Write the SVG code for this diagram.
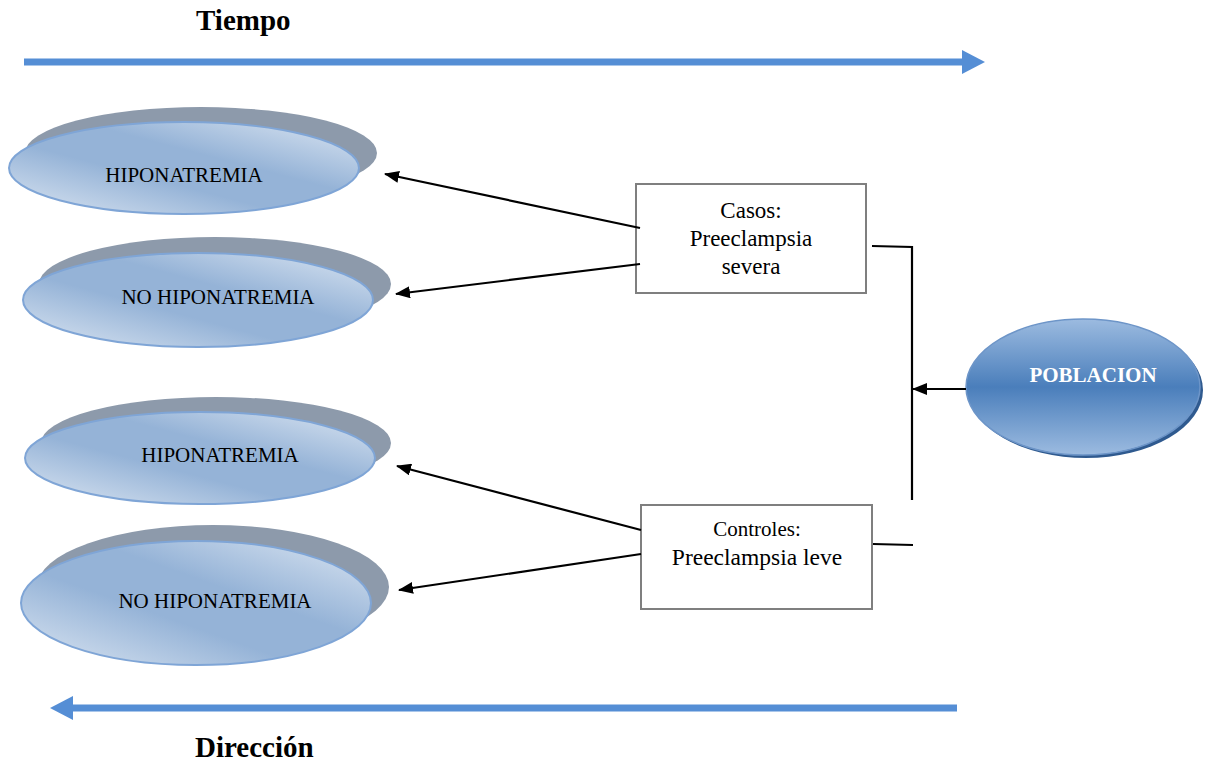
<svg xmlns="http://www.w3.org/2000/svg" width="1209" height="768" viewBox="0 0 1209 768">
<defs>
<style>
.title{font-family:"Liberation Serif","Times New Roman",serif;font-weight:bold;font-size:29px;fill:#000}
.elabel{font-family:"Liberation Serif","Times New Roman",serif;font-size:21px;fill:#000;text-anchor:middle}
.blabel{font-family:"Liberation Serif","Times New Roman",serif;fill:#000;text-anchor:middle}
.shadow{fill:#8d9aab}
.front{fill:url(#lightGrad);stroke:#7fa5d6;stroke-width:2}
.box{fill:#fff;stroke:#7f7f7f;stroke-width:2}
.conn{stroke:#000;stroke-width:2.2;fill:none}
.blue{stroke:#558ed5;stroke-width:7;fill:none}
</style>
<linearGradient id="lightGrad" x1="0" y1="1" x2="1" y2="0">
<stop offset="0" stop-color="#dce6f2"/>
<stop offset="0.4" stop-color="#95b3d7"/>
<stop offset="0.6" stop-color="#95b3d7"/>
<stop offset="1" stop-color="#dce6f2"/>
</linearGradient>
<linearGradient id="popGrad" x1="0" y1="0" x2="0" y2="1">
<stop offset="0" stop-color="#9cbbe0"/>
<stop offset="0.5" stop-color="#4a7ebb"/>
<stop offset="1" stop-color="#9cbbe0"/>
</linearGradient>
<marker id="ah" markerWidth="15" markerHeight="12" refX="14" refY="6" orient="auto" markerUnits="userSpaceOnUse" viewBox="0 0 15 12">
<path d="M0,0 L15,6 L0,12 z" fill="#000"/>
</marker>
</defs>
<rect width="1209" height="768" fill="#fff"/>

<g id="timeline-top">
<text class="title" x="196" y="30">Tiempo</text>
<line class="blue" x1="24" y1="62" x2="964" y2="62"/>
<polygon points="962,50 985,62 962,74" fill="#558ed5"/>
</g>

<g id="timeline-bottom">
<line class="blue" x1="957" y1="708" x2="71" y2="708"/>
<polygon points="73,696 50,708 73,720" fill="#558ed5"/>
<text class="title" x="195" y="757">Dirección</text>
</g>

<g id="n1">
<ellipse class="shadow" cx="201" cy="153" rx="176" ry="46"/>
<ellipse class="front" cx="184" cy="168" rx="175" ry="46"/>
<text class="elabel" x="184" y="182">HIPONATREMIA</text>
</g>

<g id="n2">
<ellipse class="shadow" cx="215" cy="284" rx="176" ry="47"/>
<ellipse class="front" cx="198" cy="300" rx="175" ry="47"/>
<text class="elabel" x="218" y="304">NO HIPONATREMIA</text>
</g>

<g id="n3">
<ellipse class="shadow" cx="216" cy="443" rx="175" ry="46"/>
<ellipse class="front" cx="200" cy="458" rx="175" ry="46"/>
<text class="elabel" x="220" y="462">HIPONATREMIA</text>
</g>

<g id="n4">
<ellipse class="shadow" cx="213" cy="587" rx="176" ry="62"/>
<ellipse class="front" cx="196" cy="603" rx="175" ry="62"/>
<text class="elabel" x="215" y="608">NO HIPONATREMIA</text>
</g>

<g id="casos">
<rect class="box" x="636" y="184" width="230" height="109"/>
<text class="blabel" x="751" y="218" font-size="23">Casos:</text>
<text class="blabel" x="751" y="246" font-size="23">Preeclampsia</text>
<text class="blabel" x="751" y="274" font-size="23">severa</text>
</g>

<g id="controles">
<rect class="box" x="641" y="505" width="231" height="104"/>
<text class="blabel" x="757" y="536" font-size="21">Controles:</text>
<text class="blabel" x="757" y="565" font-size="23.5">Preeclampsia leve</text>
</g>

<g id="poblacion">
<ellipse cx="1086" cy="390" rx="117" ry="68" fill="#2f5a8f"/>
<ellipse cx="1083" cy="387" rx="117" ry="68" fill="url(#popGrad)" stroke="#6d95c8" stroke-width="1.5"/>
<text x="1093" y="382" font-family="'Liberation Serif','Times New Roman',serif" font-weight="bold" font-size="21" fill="#fff" text-anchor="middle">POBLACION</text>
</g>

<g id="connectors">
<line class="conn" x1="640" y1="228" x2="385" y2="174" marker-end="url(#ah)"/>
<line class="conn" x1="640" y1="264" x2="396" y2="294" marker-end="url(#ah)"/>
<line class="conn" x1="641" y1="530" x2="397" y2="466" marker-end="url(#ah)"/>
<line class="conn" x1="641" y1="554" x2="399" y2="590" marker-end="url(#ah)"/>
<polyline class="conn" points="872,246 912,247 912,500"/>
<line class="conn" x1="873" y1="544" x2="913" y2="545"/>
<line class="conn" x1="966" y1="389" x2="913" y2="389" marker-end="url(#ah)"/>
</g>
</svg>
